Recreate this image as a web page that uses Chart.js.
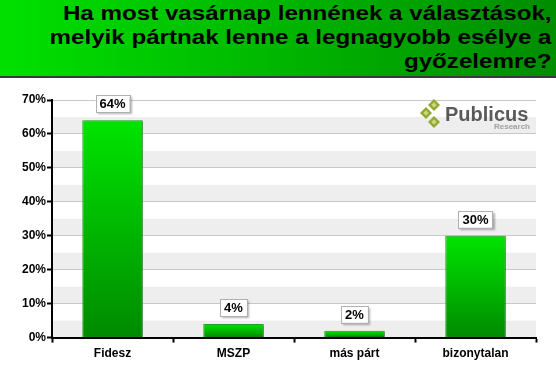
<!DOCTYPE html>
<html>
<head>
<meta charset="utf-8">
<script src="https://cdn.jsdelivr.net/npm/chart.js@4.4.1/dist/chart.umd.min.js"></script>
<style>
  html, body { margin: 0; padding: 0; background: #fff; }
  #wrap { position: relative; width: 556px; height: 369px; overflow: hidden; }
  #banner {
    position: absolute; left: 0; top: 0; width: 556px; height: 76px;
    background: linear-gradient(to right, #00e000, #008c00);
    border-bottom: 2px solid #3a3a3a;
    box-sizing: content-box;
  }
  #banner div {
    position: absolute; right: 4px; top: 1px;
    font: bold 21px "Liberation Sans", Arial, sans-serif;
    line-height: 24px; text-align: right; color: #000;
    white-space: nowrap;
    transform: scaleX(1.15); transform-origin: right top;
  }
  canvas { position: absolute; left: 0; top: 0; }
</style>
</head>
<body>
<div id="wrap">
  <canvas id="chart" width="556" height="369"></canvas>
  <div id="banner"><div>Ha most vasárnap lennének a választások,<br>melyik pártnak lenne a legnagyobb esélye a<br>győzelemre?</div></div>
</div>
<script>
// --- data ---
const categories = ['Fidesz', 'MSZP', 'más párt', 'bizonytalan'];
const shares = [64, 4, 2, 30];
const yMax = 70;

const font = { family: '"Liberation Sans", Arial, sans-serif', size: 12, weight: 'bold' };

// bar fill: bright at top, darker at base, per bar
function barFill(ctx) {
    const chart = ctx.chart;
    if (!chart.chartArea || ctx.dataIndex === undefined) return '#00cc00';
    const y = chart.scales.y;
    const top = y.getPixelForValue(shares[ctx.dataIndex]);
    const base = y.getPixelForValue(0);
    const g = chart.ctx.createLinearGradient(0, top, 0, Math.max(base, top + 1));
    g.addColorStop(0, '#00e400');
    g.addColorStop(1, '#008a00');
    return g;
}

// alternate grey bands behind the plot
const bands = {
    id: 'bands',
    beforeDraw(chart) {
        const { ctx, chartArea: a, scales: { y } } = chart;
        ctx.save();
        ctx.fillStyle = '#eeeeee';
        for (let v = 0; v < yMax; v += 10) {
            const top = y.getPixelForValue(v + 5);
            const bot = y.getPixelForValue(v);
            ctx.fillRect(a.left, top, a.right - a.left, bot - top);
        }
        ctx.restore();
    }
};

// drop shadow under the bars
const barShadow = {
    id: 'barShadow',
    beforeDatasetsDraw(chart) {
        const ctx = chart.ctx;
        ctx.save();
        ctx.shadowColor = 'rgba(0,0,0,0.35)';
        ctx.shadowOffsetX = 2;
        ctx.shadowOffsetY = 1;
        ctx.shadowBlur = 2;
    },
    afterDatasetsDraw(chart) {
        chart.ctx.restore();
    }
};

// boxed value labels above bars
const valueBoxes = {
    id: 'valueBoxes',
    afterDatasetsDraw(chart) {
        const ctx = chart.ctx;
        const meta = chart.getDatasetMeta(0);
        ctx.save();
        ctx.font = 'bold 13px "Liberation Sans", Arial, sans-serif';
        ctx.textAlign = 'center';
        ctx.textBaseline = 'middle';
        meta.data.forEach((bar, i) => {
            const txt = shares[i] + '%';
            const w = ctx.measureText(txt).width + 8;
            const h = 17;
            const x = bar.x - w / 2;
            const yb = bar.y - 8 - h;
            ctx.save();
            ctx.shadowColor = 'rgba(0,0,0,0.3)';
            ctx.shadowOffsetX = 2;
            ctx.shadowOffsetY = 2;
            ctx.shadowBlur = 2;
            ctx.fillStyle = '#ffffff';
            ctx.fillRect(x, yb, w, h);
            ctx.restore();
            ctx.strokeStyle = '#b0b0b0';
            ctx.lineWidth = 1;
            ctx.strokeRect(Math.round(x) + 0.5, Math.round(yb) + 0.5, Math.round(w), h);
            ctx.fillStyle = '#000';
            ctx.fillText(txt, bar.x, yb + h / 2 + 1);
        });
        ctx.restore();
    }
};

// Publicus Research logo, top right of the plot
const logo = {
    id: 'logo',
    afterDraw(chart) {
        const ctx = chart.ctx;
        ctx.save();
        const diamond = (cx, cy, r) => {
            ctx.beginPath();
            ctx.moveTo(cx, cy - r); ctx.lineTo(cx + r, cy); ctx.lineTo(cx, cy + r); ctx.lineTo(cx - r, cy);
            ctx.closePath();
            ctx.fillStyle = '#8fa832';
            ctx.fill();
            ctx.beginPath();
            ctx.moveTo(cx, cy - r / 2.2); ctx.lineTo(cx + r / 2.2, cy); ctx.lineTo(cx, cy + r / 2.2); ctx.lineTo(cx - r / 2.2, cy);
            ctx.closePath();
            ctx.fillStyle = '#c9d87a';
            ctx.fill();
        };
        diamond(434, 105, 6);
        diamond(426, 113, 6);
        diamond(434, 122, 6);
        ctx.fillStyle = '#5a5a5a';
        ctx.font = 'bold 20px "Liberation Sans", Arial, sans-serif';
        ctx.textAlign = 'left';
        ctx.textBaseline = 'alphabetic';
        ctx.fillText('Publicus', 445, 121);
        ctx.fillStyle = '#a0a0a0';
        ctx.font = 'bold 8px "Liberation Sans", Arial, sans-serif';
        ctx.textAlign = 'right';
        ctx.fillText('Research', 530, 129);
        ctx.restore();
    }
};

new Chart(document.getElementById('chart'), {
    type: 'bar',
    data: {
        labels: categories,
        datasets: [{
            data: shares,
            backgroundColor: barFill,
            borderColor: '#1aa81a',
            borderWidth: 1,
            borderSkipped: false,
            barPercentage: 0.5,
            categoryPercentage: 1
        }]
    },
    options: {
        responsive: false,
        animation: false,
        layout: { padding: { top: 100, right: 20, left: 21, bottom: 4 } },
        plugins: { legend: { display: false }, tooltip: { enabled: false } },
        scales: {
            x: {
                offset: true,
                grid: { display: true, drawOnChartArea: false, offset: true, tickLength: 5, tickColor: '#000', tickWidth: 2 },
                border: { color: '#000', width: 2 },
                ticks: { color: '#000', font: font, padding: 4 }
            },
            y: {
                min: 0,
                max: yMax,
                grid: {
                    color: '#c8c8c8',
                    tickLength: 5,
                    tickColor: c => (c.tick && c.tick.value % 10 === 0) ? '#000' : 'rgba(0,0,0,0)',
                    tickWidth: 2
                },
                border: { color: '#000', width: 2 },
                ticks: {
                    stepSize: 5,
                    color: '#000',
                    font: font,
                    padding: 1,
                    callback: v => v % 10 === 0 ? v + '%' : ''
                }
            }
        }
    },
    plugins: [bands, barShadow, valueBoxes, logo]
});
</script>
</body>
</html>
